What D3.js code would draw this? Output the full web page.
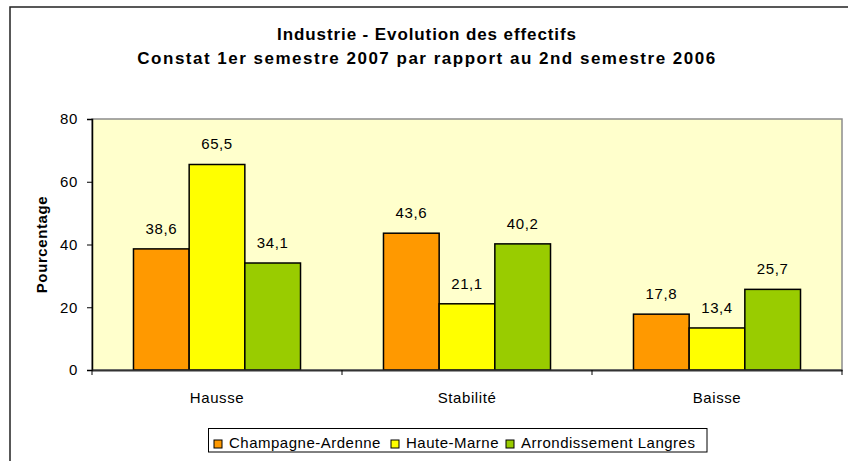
<!DOCTYPE html>
<html>
<head>
<meta charset="utf-8">
<script src="https://cdn.jsdelivr.net/npm/d3@7"></script>
<style>
  html, body { margin: 0; padding: 0; background: #fff; }
  text { font-family: "Liberation Sans", Arial, sans-serif; fill: #000; }
</style>
</head>
<body>
<div id="diagram"></div>
<script>
!(function () {
  'use strict';
  // - - - - - - - - - -
  // data
  const categories = ['Hausse', 'Stabilité', 'Baisse'];
  const seriesNames = ['Champagne-Ardenne', 'Haute-Marne', 'Arrondissement Langres'];
  const champagneArdenne = [38.6, 43.6, 17.8];
  const hauteMarne = [65.5, 21.1, 13.4];
  const arrondissementLangres = [34.1, 40.2, 25.7];
  const yTicks = [0, 20, 40, 60, 80];
  const titleLines = ['Industrie - Evolution des effectifs', 'Constat 1er semestre 2007 par rapport au 2nd semestre 2006'];

  // declaration
  let
    svg = undefined,
    x0 = undefined,
    x1 = undefined,
    yScale = undefined,
    color = undefined,
    rows = undefined,

    setCanvas = undefined,
    setScales = undefined,
    setPlotArea = undefined,
    setBars = undefined,
    setAxes = undefined,
    setTitle = undefined,
    setLegend = undefined;

  const canvas = {
    width: 848,
    height: 461,
    padding: { top: 119, right: 6, bottom: 91, left: 92 }
  };
  const plot = {
    x: canvas.padding.left,
    y: canvas.padding.top,
    w: canvas.width - canvas.padding.left - canvas.padding.right,
    h: canvas.height - canvas.padding.top - canvas.padding.bottom
  };

  rows = categories.map(function (c, i) {
    return {
      category: c,
      values: [champagneArdenne[i], hauteMarne[i], arrondissementLangres[i]]
    };
  });

  // methods
  setCanvas = function (contextSelector) {
    svg = d3.select(contextSelector)
      .append('svg')
      .attr('width', canvas.width)
      .attr('height', canvas.height);

    // outer chart frame (right and bottom edges fall outside the picture)
    svg.append('rect')
      .attr('x', 10)
      .attr('y', 7)
      .attr('width', canvas.width)
      .attr('height', canvas.height)
      .attr('fill', '#fff')
      .attr('stroke', '#222')
      .attr('stroke-width', 1.5);
  };

  setScales = function () {
    x0 = d3.scaleBand()
      .domain(categories)
      .range([plot.x, plot.x + plot.w]);

    x1 = d3.scaleBand()
      .domain(seriesNames)
      .range([0, x0.bandwidth()])
      .paddingInner(0)
      .paddingOuter(0.745);

    yScale = d3.scaleLinear()
      .domain([0, 80])
      .range([plot.y + plot.h, plot.y]);

    color = d3.scaleOrdinal()
      .domain(seriesNames)
      .range(['#FF9900', '#FFFF00', '#99CC00']);
  };

  setPlotArea = function () {
    svg.append('rect')
      .attr('x', plot.x)
      .attr('y', plot.y)
      .attr('width', plot.w)
      .attr('height', plot.h)
      .attr('fill', '#FFFFCC')
      .attr('stroke', '#8c8c8c')
      .attr('stroke-width', 1.5);
  };

  setBars = function () {
    let groups = svg.append('g')
      .selectAll('g')
      .data(rows)
      .join('g')
      .attr('transform', function (d) { return 'translate(' + x0(d.category) + ', 0)'; });

    let cells = groups.selectAll('g')
      .data(function (d) {
        return d.values.map(function (v, i) { return { name: seriesNames[i], value: v }; });
      })
      .join('g');

    cells.append('rect')
      .attr('x', function (d) { return x1(d.name); })
      .attr('y', function (d) { return yScale(d.value); })
      .attr('width', x1.bandwidth())
      .attr('height', function (d) { return yScale(0) - yScale(d.value); })
      .attr('fill', function (d) { return color(d.name); })
      .attr('stroke', '#000')
      .attr('stroke-width', 1.5);

    cells.append('text')
      .attr('x', function (d) { return x1(d.name) + x1.bandwidth() / 2; })
      .attr('y', function (d) { return yScale(d.value) - 15; })
      .attr('text-anchor', 'middle')
      .style('font-size', '15px')
      .style('letter-spacing', '0.6px')
      .text(function (d) { return d3.format('.1f')(d.value).replace('.', ','); });
  };

  setAxes = function () {
    let yAxis = svg.append('g')
      .attr('transform', 'translate(' + plot.x + ', 0)')
      .call(d3.axisLeft(yScale).tickValues(yTicks).tickSize(5).tickPadding(9));
    yAxis.select('.domain').attr('stroke', '#000').attr('stroke-width', 1.5);
    yAxis.selectAll('.tick line').attr('stroke', '#000');
    yAxis.selectAll('.tick text')
      .style('font-size', '15px')
      .style('letter-spacing', '0.6px')
      .attr('font-family', null);

    let xAxis = svg.append('g')
      .attr('transform', 'translate(0, ' + yScale(0) + ')')
      .call(d3.axisBottom(x0).tickSize(0).tickPadding(22));
    xAxis.select('.domain').attr('stroke', '#333').attr('stroke-width', 2);
    xAxis.selectAll('.tick text')
      .style('font-size', '15px')
      .style('letter-spacing', '0.6px')
      .attr('font-family', null);

    // tick marks between categories
    let edges = categories.map(function (c) { return x0(c); }).concat([x0.range()[1]]);
    xAxis.selectAll('.edge')
      .data(edges)
      .join('line')
      .attr('class', 'edge')
      .attr('x1', function (d) { return d; })
      .attr('x2', function (d) { return d; })
      .attr('y1', 0)
      .attr('y2', 5)
      .attr('stroke', '#000');

    svg.append('text')
      .attr('transform', 'translate(47, ' + (plot.y + plot.h / 2) + ') rotate(-90)')
      .attr('text-anchor', 'middle')
      .style('font-size', '15px')
      .style('font-weight', 'bold')
      .style('letter-spacing', '0.6px')
      .text('Pourcentage');
  };

  setTitle = function () {
    svg.append('g')
      .selectAll('text')
      .data(titleLines)
      .join('text')
      .attr('x', 427)
      .attr('y', function (d, i) { return 40 + i * 23.5; })
      .attr('text-anchor', 'middle')
      .style('font-size', '17px')
      .style('font-weight', 'bold')
      .style('letter-spacing', function (d, i) { return i === 0 ? '0.9px' : '1.5px'; })
      .text(function (d) { return d; });
  };

  setLegend = function () {
    let lg = svg.append('g');
    lg.append('rect')
      .attr('x', 208.5)
      .attr('y', 428.5)
      .attr('width', 498.5)
      .attr('height', 23.5)
      .attr('fill', '#fff')
      .attr('stroke', '#000')
      .attr('stroke-width', 1);

    let itemX = [214, 391, 506];
    let items = lg.selectAll('g')
      .data(seriesNames)
      .join('g')
      .attr('transform', function (d, i) { return 'translate(' + itemX[i] + ', 440)'; });

    items.append('rect')
      .attr('width', 8)
      .attr('height', 8)
      .attr('fill', function (d) { return color(d); })
      .attr('stroke', '#000')
      .attr('stroke-width', 1);

    items.append('text')
      .attr('x', 15)
      .attr('y', 8)
      .style('font-size', '15px')
      .style('letter-spacing', '0.5px')
      .text(function (d) { return d; });
  };

  // control
  setCanvas('#diagram');
  setScales();
  setPlotArea();
  setBars();
  setAxes();
  setTitle();
  setLegend();
  // - - - - - - - - - -
}());
</script>
</body>
</html>
